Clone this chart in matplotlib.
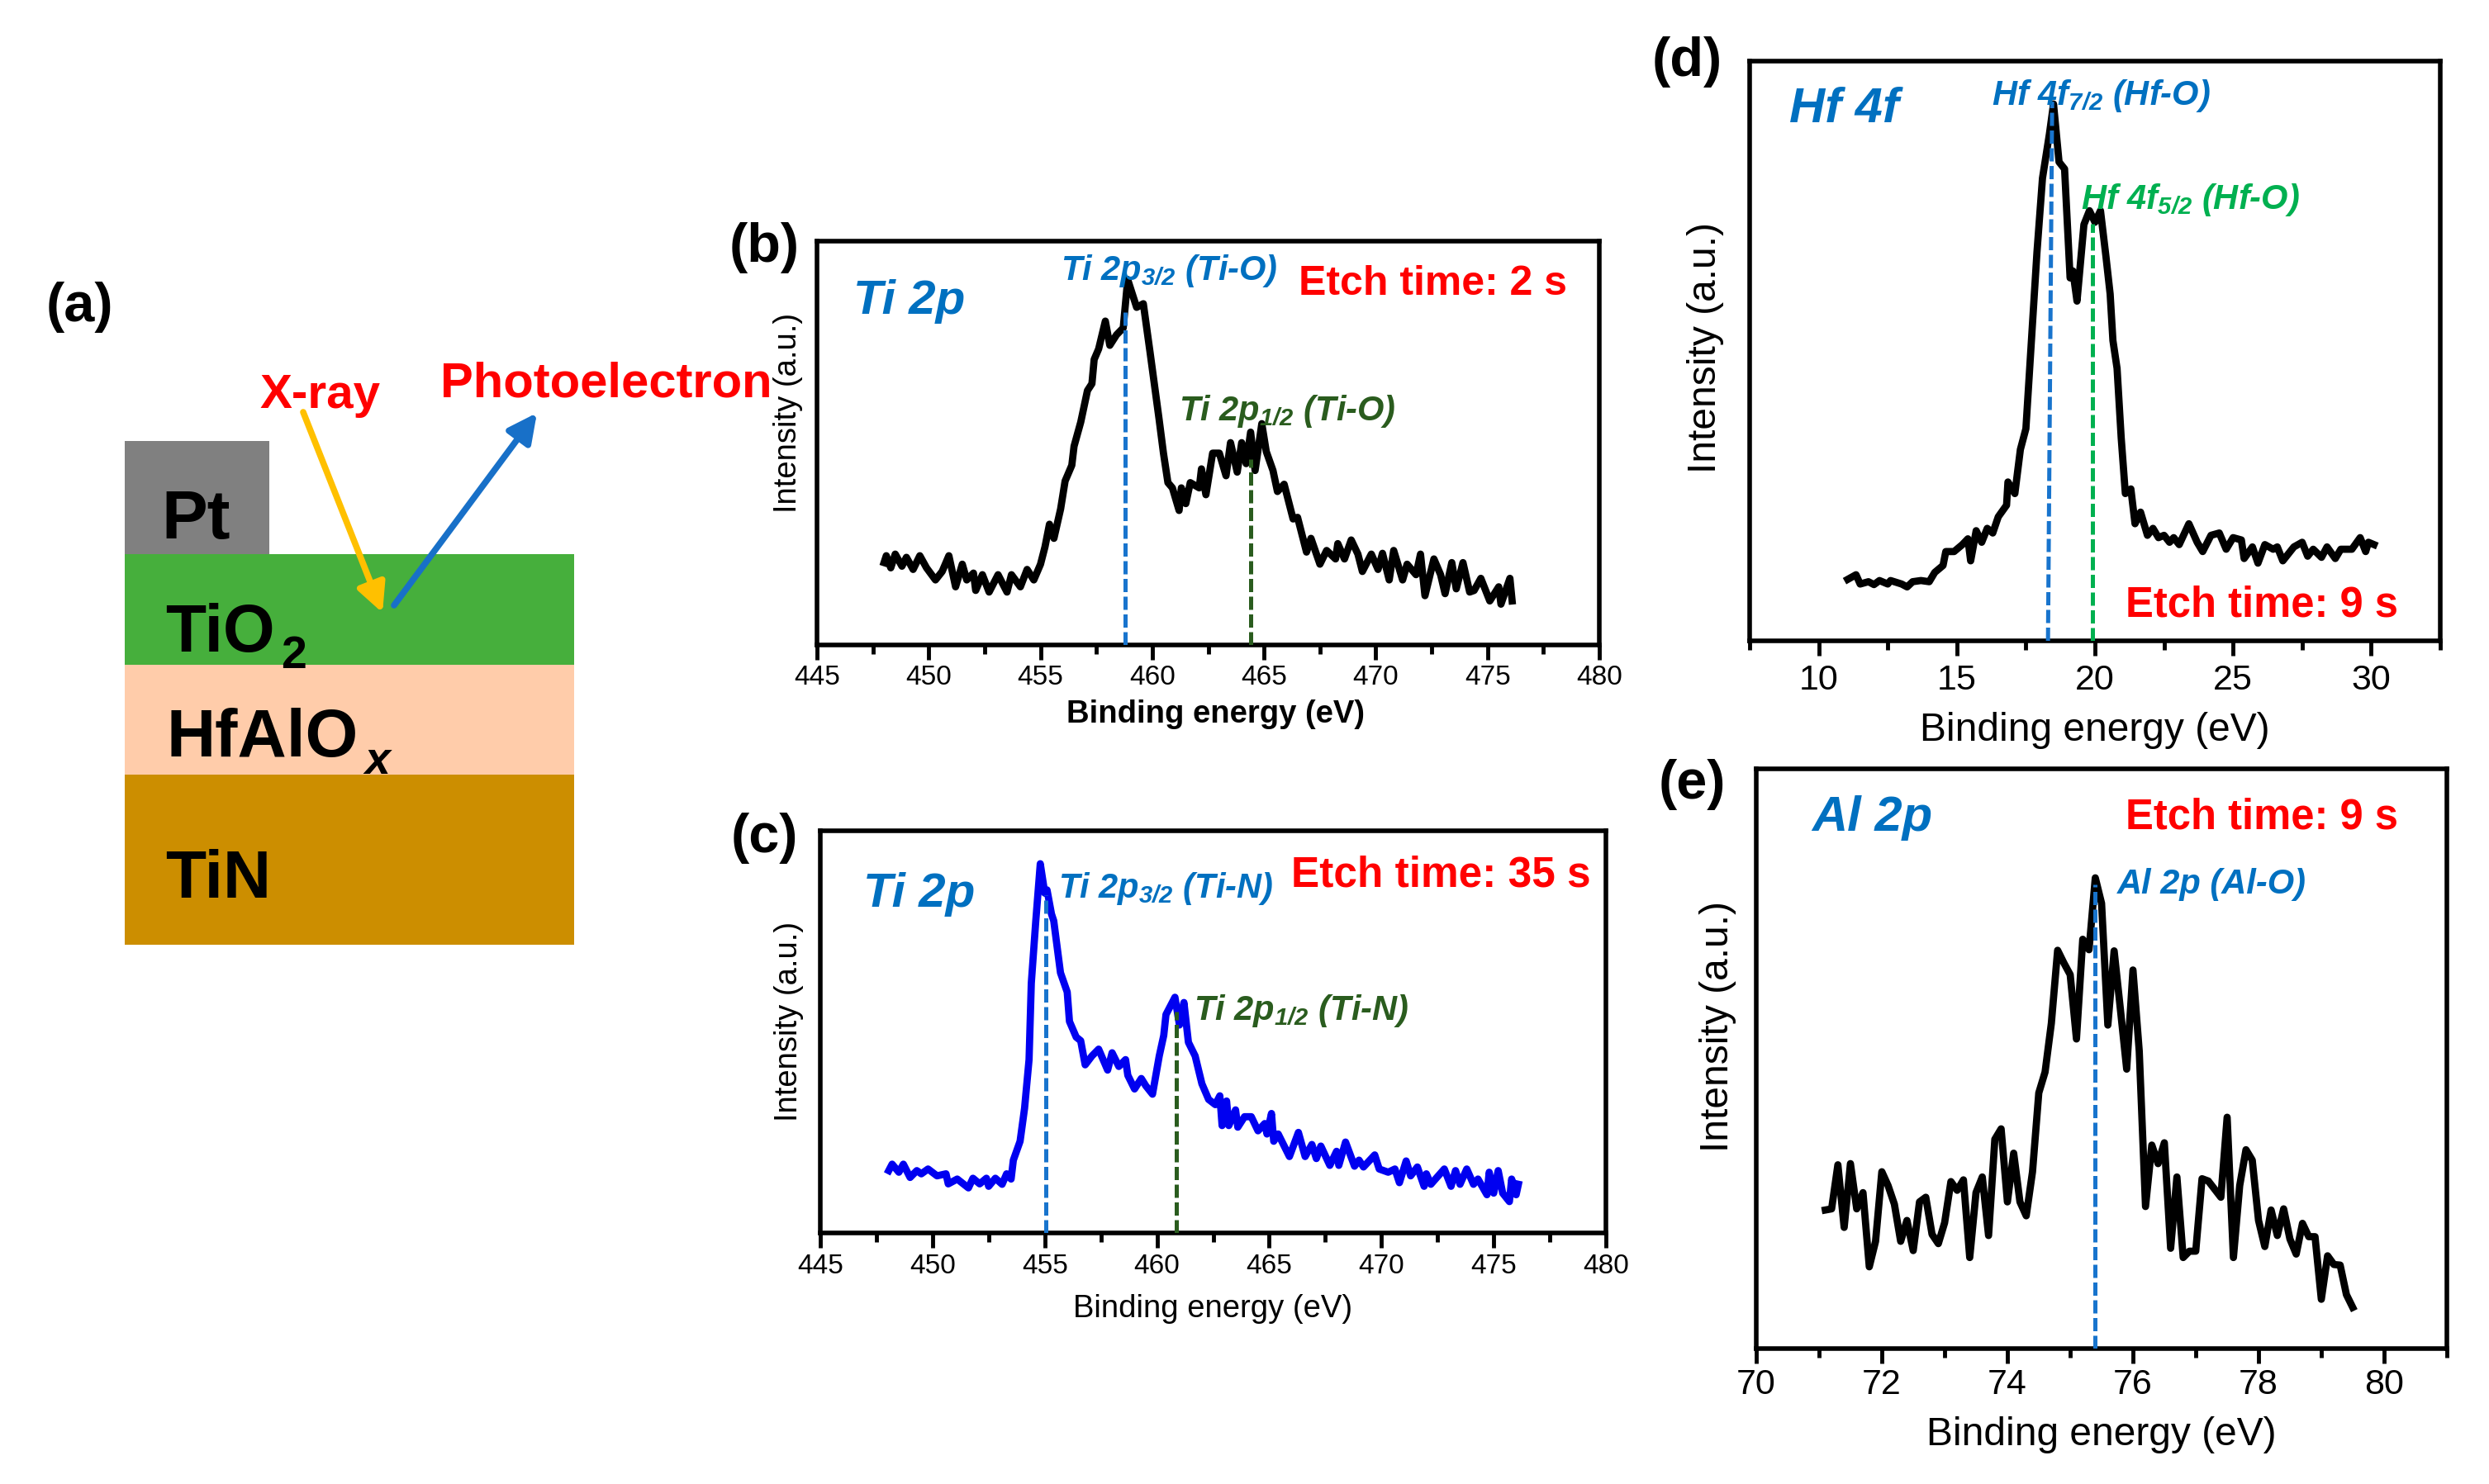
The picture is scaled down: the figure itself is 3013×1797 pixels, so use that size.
import matplotlib
matplotlib.use('Agg')
import matplotlib.pyplot as plt
from matplotlib.patches import Rectangle, FancyArrowPatch
from matplotlib.ticker import MultipleLocator

W, H = 3013, 1797

plt.rcParams['font.family'] = ['Liberation Sans', 'DejaVu Sans']
plt.rcParams['mathtext.fontset'] = 'custom'
plt.rcParams['mathtext.rm'] = 'Liberation Sans'
plt.rcParams['mathtext.it'] = 'Liberation Sans:italic:bold'
plt.rcParams['mathtext.bf'] = 'Liberation Sans:bold'
plt.rcParams['mathtext.default'] = 'regular'

# panel (b) Ti 2p, etch 2 s
b_ev = [448.0, 448.1, 448.3, 448.5, 448.8, 449.0, 449.3, 449.6, 449.9, 450.3, 450.6, 450.9, 451.2, 451.5, 451.7,
        452.0, 452.1, 452.4, 452.7, 453.1, 453.5, 453.7, 454.1, 454.4, 454.7, 455.0, 455.2, 455.4, 455.6, 455.9,
        456.1, 456.4, 456.5, 456.8, 457.1, 457.3, 457.4, 457.6, 457.9, 458.1, 458.4, 458.7, 458.9, 459.3, 459.6,
        459.9, 460.3, 460.5, 460.7, 460.9, 461.2, 461.3, 461.5, 461.7, 462.1, 462.2, 462.4, 462.7, 463.0, 463.3,
        463.5, 463.8, 464.0, 464.2, 464.4, 464.6, 464.9, 465.1, 465.4, 465.6, 465.9, 466.3, 466.5, 466.9, 467.1,
        467.5, 467.8, 468.2, 468.3, 468.6, 468.9, 469.2, 469.4, 469.8, 470.1, 470.3, 470.6, 470.8, 471.2, 471.4,
        471.8, 472.0, 472.2, 472.6, 472.9, 473.1, 473.4, 473.6, 473.9, 474.2, 474.4, 474.7, 475.1, 475.5, 475.6,
        476.0, 476.1]
b_int = [20.4, 22.1, 19.1, 22.5, 19.5, 21.7, 18.7, 22.1, 19.1, 16.1, 18.2, 22.1, 14.4, 20.0, 16.1,
         17.8, 13.5, 17.4, 13.1, 17.4, 13.1, 17.4, 14.4, 18.7, 16.1, 20.0, 24.3, 29.9, 26.4, 33.7,
         40.6, 44.5, 49.2, 55.2, 63.0, 64.7, 70.7, 73.3, 80.2, 74.2, 76.8, 78.5, 90.5, 83.6, 84.5,
         72.5, 56.1, 47.5, 40.2, 38.9, 33.3, 38.9, 35.0, 40.2, 38.9, 43.6, 37.2, 47.5, 47.5, 41.9,
         50.1, 42.8, 50.1, 44.9, 52.7, 43.2, 54.8, 47.9, 43.2, 38.0, 39.8, 31.2, 31.6, 23.0, 26.4,
         20.0, 23.4, 21.3, 25.1, 21.3, 26.0, 22.5, 18.2, 22.5, 18.7, 22.7, 16.1, 23.4, 16.1, 20.0,
         17.4, 22.5, 12.2, 21.3, 17.4, 12.7, 20.4, 13.9, 20.4, 13.1, 13.5, 16.5, 10.9, 14.4, 10.1,
         16.5, 10.9]

# panel (c) Ti 2p, etch 35 s
c_ev = [448.05, 448.2, 448.5, 448.7, 449.0, 449.3, 449.5, 449.8, 450.2, 450.6, 450.7, 451.1, 451.6, 451.8, 452.1,
        452.4, 452.5, 452.8, 453.1, 453.3, 453.5, 453.6, 453.9, 454.1, 454.3, 454.4, 454.6, 454.8, 455.0, 455.1,
        455.3, 455.4, 455.7, 456.0, 456.1, 456.4, 456.6, 456.8, 457.1, 457.4, 457.6, 457.8, 458.0, 458.3, 458.6,
        458.7, 459.0, 459.3, 459.5, 459.8, 460.1, 460.3, 460.4, 460.8, 461.0, 461.2, 461.4, 461.7, 462.0, 462.3,
        462.6, 462.8, 462.9, 463.1, 463.2, 463.5, 463.6, 463.9, 464.2, 464.5, 464.8, 464.9, 465.1, 465.2, 465.4,
        465.9, 466.3, 466.6, 466.9, 467.1, 467.3, 467.7, 468.0, 468.1, 468.4, 468.8, 469.0, 469.2, 469.7, 469.9,
        470.3, 470.6, 470.8, 471.1, 471.3, 471.6, 471.9, 472.0, 472.2, 472.8, 473.1, 473.3, 473.5, 473.8, 474.1,
        474.3, 474.7, 474.8, 475.0, 475.2, 475.4, 475.7, 475.8, 476.0, 476.1]
c_int = [15.5, 17.1, 15.1, 17.1, 13.8, 15.5, 14.7, 15.9, 14.2, 14.7, 12.2, 13.4, 11.2, 13.6, 12.2,
         13.6, 11.6, 13.6, 12.1, 14.7, 13.4, 18.1, 22.8, 31.0, 43.1, 62.1, 77.6, 91.8, 84.5, 85.3,
         79.3, 77.6, 64.7, 59.9, 52.6, 48.7, 47.8, 41.8, 44.0, 45.7, 43.1, 40.5, 44.8, 41.4, 43.1,
         39.2, 35.8, 38.4, 36.6, 34.5, 44.0, 49.1, 54.3, 58.6, 51.7, 57.3, 47.4, 44.0, 37.1, 33.2,
         31.9, 34.1, 26.7, 32.8, 26.7, 30.6, 26.3, 28.9, 28.9, 25.4, 27.2, 24.6, 29.7, 22.8, 24.6,
         19.0, 25.0, 19.0, 22.0, 18.5, 21.6, 16.8, 20.3, 16.8, 22.6, 16.6, 18.1, 16.4, 19.4, 15.9,
         15.1, 15.9, 12.5, 17.9, 14.2, 16.4, 11.6, 14.7, 12.1, 15.9, 11.6, 15.5, 12.1, 15.9, 12.1,
         13.4, 9.5, 15.1, 9.9, 15.5, 9.9, 7.8, 13.4, 9.5, 12.1]

# panel (d) Hf 4f, etch 9 s
d_ev = [11.05, 11.35, 11.5, 11.8, 12.0, 12.2, 12.5, 12.6, 13.0, 13.2, 13.4, 13.7, 14.0, 14.2, 14.5,
        14.6, 14.9, 15.2, 15.4, 15.5, 15.7, 15.9, 16.1, 16.3, 16.5, 16.8, 16.85, 17.1, 17.3, 17.5,
        17.7, 17.9, 18.1, 18.35, 18.5, 18.7, 18.9, 19.1, 19.2, 19.35, 19.6, 19.8, 20.0, 20.2, 20.4,
        20.55, 20.65, 20.8, 20.95, 21.1, 21.3, 21.45, 21.65, 21.9, 22.1, 22.3, 22.5, 22.7, 22.85, 23.05,
        23.4, 23.7, 23.9, 24.2, 24.5, 24.75, 25.0, 25.3, 25.4, 25.7, 25.9, 26.15, 26.45, 26.6, 26.8,
        27.2, 27.5, 27.7, 27.9, 28.2, 28.4, 28.7, 28.9, 29.3, 29.6, 29.8, 29.9, 30.1]
d_int = [10.6, 11.4, 9.8, 10.2, 9.7, 10.4, 9.8, 10.4, 9.8, 9.3, 10.2, 10.4, 10.2, 11.8, 13.0,
         15.4, 15.4, 16.6, 17.6, 13.8, 19.0, 17.0, 19.4, 18.6, 21.4, 23.4, 27.4, 25.4, 33.0, 36.6,
         51.8, 67.0, 79.8, 87.4, 92.6, 82.6, 81.4, 62.6, 63.8, 58.6, 71.8, 74.2, 72.2, 74.2, 66.2,
         59.8, 51.8, 47.0, 35.0, 25.4, 26.2, 20.2, 22.2, 18.2, 19.4, 17.8, 18.2, 17.0, 17.8, 16.6,
         20.2, 17.0, 15.4, 18.2, 18.6, 15.8, 17.8, 17.4, 14.2, 16.2, 13.4, 16.6, 15.8, 16.2, 13.8,
         16.2, 17.0, 14.6, 15.8, 14.4, 16.2, 14.2, 15.8, 15.8, 17.8, 15.4, 17.0, 16.6]

# panel (e) Al 2p, etch 9 s
e_ev = [71.1, 71.2, 71.3, 71.4, 71.5, 71.6, 71.7, 71.8, 71.9, 72.0, 72.1, 72.2, 72.3, 72.4, 72.5, 72.6, 72.7,
        72.8, 72.9, 73.0, 73.1, 73.2, 73.3, 73.4, 73.5, 73.6, 73.7, 73.8, 73.9, 74.0, 74.1, 74.2, 74.3, 74.4,
        74.5, 74.6, 74.7, 74.8, 74.9, 75.0, 75.1, 75.2, 75.3, 75.4, 75.5, 75.6, 75.7, 75.8, 75.9, 76.0, 76.1,
        76.2, 76.3, 76.4, 76.5, 76.6, 76.7, 76.8, 76.9, 77.0, 77.1, 77.2, 77.3, 77.4, 77.5, 77.6, 77.7, 77.8,
        77.9, 78.0, 78.1, 78.2, 78.3, 78.4, 78.5, 78.6, 78.7, 78.8, 78.9, 79.0, 79.1, 79.2, 79.3, 79.4, 79.5]
e_int = [23.9, 24.1, 31.7, 20.9, 31.9, 24.1, 26.9, 14.1, 18.5, 30.5, 28.1, 24.9, 18.5, 22.1, 16.9, 25.3, 26.1,
         19.7, 18.1, 21.7, 28.8, 27.3, 29.1, 15.7, 26.9, 29.6, 19.5, 36.1, 37.9, 25.3, 33.7, 25.3, 22.9, 30.5,
         44.1, 47.7, 56.1, 68.7, 66.5, 64.5, 53.4, 70.6, 68.8, 81.2, 76.8, 55.8, 68.6, 58.5, 48.2, 65.3, 51.3,
         24.5, 35.1, 31.9, 35.5, 17.3, 29.6, 15.7, 16.8, 16.8, 29.3, 28.9, 27.5, 26.1, 39.9, 15.7, 28.1, 34.3,
         32.5, 22.1, 17.6, 23.9, 19.5, 24.1, 18.9, 16.3, 21.6, 19.3, 19.3, 8.5, 16.0, 14.5, 14.4, 9.3, 7.1]

BLUE = '#0070C0'
DASH_BLUE = '#1874CD'
DARK_GREEN = '#2A5C1E'
GREEN = '#00B050'
RED = '#FF0000'

fig = plt.figure(figsize=(W / 100 + 1e-4, H / 100 + 1e-4), dpi=100)
bg = fig.add_axes([0, 0, 1, 1], zorder=5)
bg.set_xlim(0, W)
bg.set_ylim(H, 0)
bg.axis('off')
bg.patch.set_alpha(0)


def put(x, y, s, size, color='black', weight='bold', style='normal', ha='center', va='center'):
    bg.text(x, y, s, fontsize=size, color=color, fontweight=weight, fontstyle=style, ha=ha, va=va)


def panel(box, xlim, major, minor, ev, inten, color, dashes, xlab_y, ylab_x, ylab_frac, tick_size, lab_size,
          lab_weight='normal', pad=7, xlab_frac=0.5):
    # box is left, right, top, bottom in pixels of the final image
    l, r, t, b = box
    ax = fig.add_axes([l / W, 1 - b / H, (r - l) / W, (b - t) / H])
    ax.plot(ev, inten, color=color, lw=6.3, solid_joinstyle='round', zorder=2)
    for x0, x1, y1, c in dashes:
        ax.plot([x0, x1], [0, y1], color=c, lw=3.6, ls=(0, (3.2, 1.1)), zorder=3)
    ax.set_xlim(*xlim)
    ax.set_ylim(0, 100)
    ax.set_yticks([])
    ax.xaxis.set_major_locator(MultipleLocator(major))
    ax.xaxis.set_minor_locator(MultipleLocator(minor))
    ax.tick_params(axis='x', which='major', length=13, width=3.5, labelsize=tick_size, pad=pad)
    ax.tick_params(axis='x', which='minor', length=8, width=3.5)
    for s in ax.spines.values():
        s.set_linewidth(4)
    ax.set_xlabel('Binding energy (eV)', fontsize=lab_size, fontweight=lab_weight, va='center')
    ax.set_ylabel('Intensity (a.u.)', fontsize=lab_size, va='center')
    ax.xaxis.set_label_coords(xlab_frac, (b - xlab_y) / (b - t))
    ax.yaxis.set_label_coords((ylab_x - l) / (r - l), ylab_frac)
    return ax


# schematic (a)
bg.add_patch(Rectangle((151, 534), 175, 137, fc='#808080', ec='none'))
bg.add_patch(Rectangle((151, 671), 544, 134, fc='#46AF3C', ec='none'))
bg.add_patch(Rectangle((151, 805), 544, 133, fc='#FFCCAA', ec='none'))
bg.add_patch(Rectangle((151, 938), 544, 206, fc='#CC8E00', ec='none'))
bg.add_patch(FancyArrowPatch((367, 499), (463, 742), arrowstyle='-|>,head_length=1.1,head_width=0.55',
                             mutation_scale=19, lw=5.5, color='#FFC000', shrinkA=0, shrinkB=0))
bg.add_patch(FancyArrowPatch((477, 733), (650, 500), arrowstyle='-|>,head_length=1.1,head_width=0.55',
                             mutation_scale=19, lw=5.5, color='#1870C8', shrinkA=0, shrinkB=0))
put(96, 372, '(a)', 48)
put(388, 479, 'X-ray', 42, RED)
put(734, 465, 'Photoelectron', 43, RED)
put(195, 652, 'Pt', 60, ha='left', va='baseline')
put(200, 789, 'TiO', 58, ha='left', va='baseline')
put(340, 809, '2', 40, ha='left', va='baseline')
put(201, 916, 'HfAlO', 59, ha='left', va='baseline')
put(441, 937, 'x', 40, style='italic', ha='left', va='baseline')
put(200, 1087, 'TiN', 58, ha='left', va='baseline')

# (b)
panel((989, 1936, 292, 781), (445, 480), 5, 2.5, b_ev, b_int, 'black',
      [(458.8, 458.8, 83, DASH_BLUE), (464.4, 464.4, 46, DARK_GREEN)], 865, 954, 0.575, 24, 27.5, 'bold', pad=4,
      xlab_frac=0.51)
put(925, 300, '(b)', 48)
put(1101, 365, 'Ti 2p', 42, BLUE, style='italic')
put(1415, 328, r'Ti 2p$_{3/2}$ (Ti-O)', 30, BLUE, style='italic')
put(1558, 498, r'Ti 2p$_{1/2}$ (Ti-O)', 30, DARK_GREEN, style='italic')
put(1734, 344, 'Etch time: 2 s', 36, RED)

# (c)
panel((993, 1944, 1006, 1493), (445, 480), 5, 2.5, c_ev, c_int, '#0000F0',
      [(455.05, 455.05, 84, DASH_BLUE), (460.85, 460.85, 55, DARK_GREEN)], 1585, 955, 0.526, 24, 27.5, pad=5)
put(925, 1015, '(c)', 48)
put(1113, 1083, 'Ti 2p', 42, BLUE, style='italic')
put(1411, 1076, r'Ti 2p$_{3/2}$ (Ti-N)', 30, BLUE, style='italic')
put(1575, 1224, r'Ti 2p$_{1/2}$ (Ti-N)', 30, DARK_GREEN, style='italic')
put(1744, 1060, 'Etch time: 35 s', 37, RED)

# (d)
panel((2118, 2954, 74, 776), (7.5, 32.5), 5, 2.5, d_ev, d_int, 'black',
      [(18.3, 18.45, 93, DASH_BLUE), (19.9, 19.9, 72, GREEN)], 884, 2064, 0.505, 31, 34.5)
put(2042, 75, '(d)', 48)
put(2232, 132, 'Hf 4f', 43, BLUE, style='italic')
put(2543, 116, r'Hf 4f$_{7/2}$ (Hf-O)', 30, BLUE, style='italic')
put(2651, 242, r'Hf 4f$_{5/2}$ (Hf-O)', 30, GREEN, style='italic')
put(2738, 733, 'Etch time: 9 s', 36.5, RED)

# (e)
panel((2126, 2962, 931, 1633), (70, 81), 2, 1, e_ev, e_int, 'black',
      [(75.4, 75.4, 80, DASH_BLUE)], 1737, 2079, 0.555, 31, 34.5, pad=4)
put(2048, 950, '(e)', 48)
put(2266, 990, 'Al 2p', 43, BLUE, style='italic')
put(2738, 990, 'Etch time: 9 s', 36.5, RED)
put(2677, 1071, 'Al 2p (Al-O)', 30, BLUE, style='italic')

fig.savefig('out.png', dpi=100)
